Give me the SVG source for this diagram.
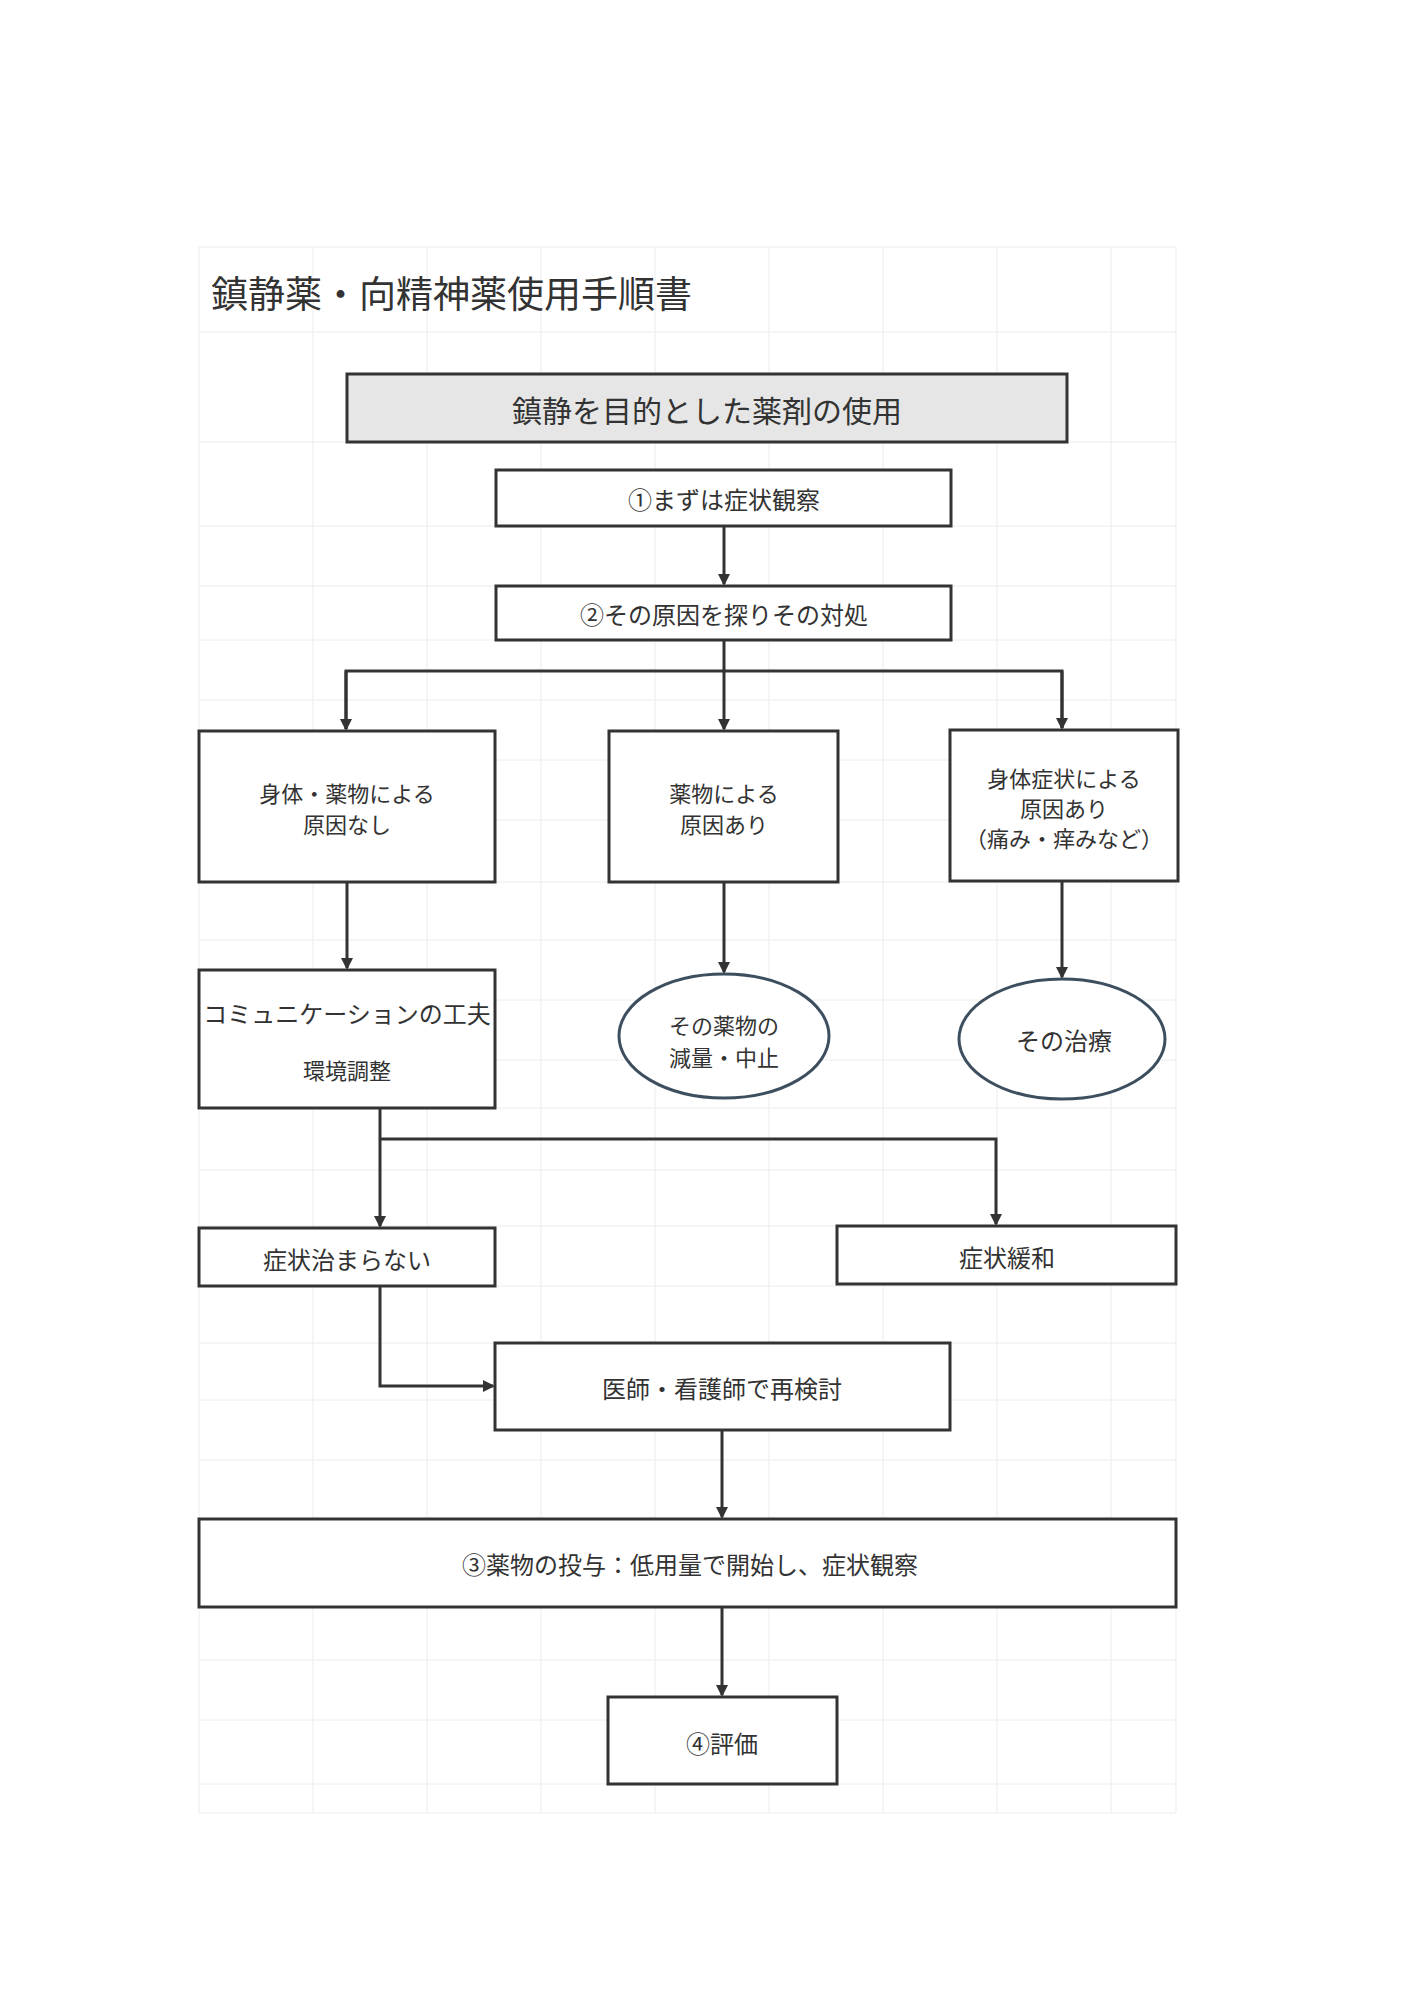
<svg xmlns="http://www.w3.org/2000/svg" width="1414" height="2000" viewBox="0 0 1414 2000">
<style>
.b{fill:#fff;stroke:#333;stroke-width:3}
.e{fill:#fff;stroke:#3d4f5f;stroke-width:3}
.t{font-family:"Noto Sans CJK JP","Noto Sans",sans-serif;font-size:24px;fill:#333;text-anchor:middle;dominant-baseline:central}
.s{font-size:22px}
.c{fill:none;stroke:#333;stroke-width:3}
.g{stroke:#ececec;stroke-width:1}
</style>
<defs><marker id="a" markerWidth="12" markerHeight="12" refX="10" refY="6" orient="auto" markerUnits="userSpaceOnUse" viewBox="0 0 12 12"><path d="M0,0 L12,6 L0,12 z" fill="#333"/></marker></defs>
<rect width="1414" height="2000" fill="#fff"/>
<g id="grid">
<path class="g" d="M199,247V1813M313,247V1813M427,247V1813M541,247V1813M655,247V1813M769,247V1813M883,247V1813M997,247V1813M1111,247V1813M1176,247V1813"/>
<path class="g" d="M199,247H1176M199,332H1176M199,442H1176M199,526H1176M199,586H1176M199,640H1176M199,700H1176M199,760H1176M199,820H1176M199,882H1176M199,940H1176M199,1000H1176M199,1060H1176M199,1108H1176M199,1170H1176M199,1226H1176M199,1286H1176M199,1343H1176M199,1400H1176M199,1460H1176M199,1519H1176M199,1607H1176M199,1660H1176M199,1720H1176M199,1784H1176M199,1813H1176"/>
</g>
<text x="211" y="308" style="font-family:'Noto Sans CJK JP',sans-serif;font-size:37px;fill:#333">鎮静薬・向精神薬使用手順書</text>
<g id="n0"><rect x="347" y="374" width="720" height="68" fill="#e6e6e6" stroke="#333" stroke-width="3"/><text class="t" x="707" y="409" style="font-size:30px">鎮静を目的とした薬剤の使用</text></g>
<g id="n1"><rect class="b" x="496" y="470" width="455" height="56"/><text class="t" x="724" y="498">①まずは症状観察</text></g>
<g id="n2"><rect class="b" x="496" y="586" width="455" height="54"/><text class="t" x="724" y="613">②その原因を探りその対処</text></g>
<g id="nA"><rect class="b" x="199" y="731" width="296" height="151"/><text class="t s" x="347" y="792">身体・薬物による</text><text class="t s" x="347" y="823">原因なし</text></g>
<g id="nB"><rect class="b" x="609" y="731" width="229" height="151"/><text class="t s" x="724" y="792">薬物による</text><text class="t s" x="724" y="823">原因あり</text></g>
<g id="nC"><rect class="b" x="950" y="730" width="228" height="151"/><text class="t s" x="1064" y="777">身体症状による</text><text class="t s" x="1064" y="807">原因あり</text><text class="t s" x="1064" y="837">（痛み・痒みなど）</text></g>
<g id="nD"><rect class="b" x="199" y="970" width="296" height="138"/><text class="t" x="347" y="1012">コミュニケーションの工夫</text><text class="t s" x="347" y="1069">環境調整</text></g>
<g id="nE"><ellipse class="e" cx="724" cy="1036" rx="105" ry="62"/><text class="t s" x="724" y="1024">その薬物の</text><text class="t s" x="724" y="1056">減量・中止</text></g>
<g id="nF"><ellipse class="e" cx="1062" cy="1039" rx="103" ry="60"/><text class="t" x="1064" y="1039">その治療</text></g>
<g id="nG"><rect class="b" x="199" y="1228" width="296" height="58"/><text class="t" x="347" y="1258">症状治まらない</text></g>
<g id="nH"><rect class="b" x="837" y="1226" width="339" height="58"/><text class="t" x="1007" y="1256">症状緩和</text></g>
<g id="nI"><rect class="b" x="495" y="1343" width="455" height="87"/><text class="t" x="722" y="1387">医師・看護師で再検討</text></g>
<g id="nJ"><rect class="b" x="199" y="1519" width="977" height="88"/><text class="t" x="690" y="1563">③薬物の投与：低用量で開始し、症状観察</text></g>
<g id="nK"><rect class="b" x="608" y="1697" width="229" height="87"/><text class="t" x="722" y="1742">④評価</text></g>
<g id="connectors">
<path class="c" d="M724,526V584" marker-end="url(#a)"/>
<path class="c" d="M346,729V671H1062V728"/>
<path class="c" d="M724,640V729" marker-end="url(#a)"/>
<path class="c" d="M346,671V729" marker-end="url(#a)"/>
<path class="c" d="M1062,671V728" marker-end="url(#a)"/>
<path class="c" d="M347,882V968" marker-end="url(#a)"/>
<path class="c" d="M724,882V972" marker-end="url(#a)"/>
<path class="c" d="M1062,881V977" marker-end="url(#a)"/>
<path class="c" d="M380,1108V1226" marker-end="url(#a)"/>
<path class="c" d="M380,1139H996V1224" marker-end="url(#a)"/>
<path class="c" d="M380,1286V1386H493" marker-end="url(#a)"/>
<path class="c" d="M722,1430V1517" marker-end="url(#a)"/>
<path class="c" d="M722,1607V1695" marker-end="url(#a)"/>
</g>
</svg>
